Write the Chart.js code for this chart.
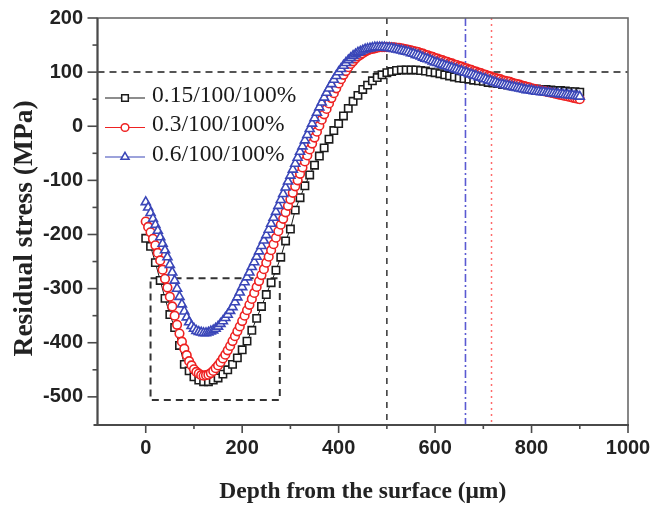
<!DOCTYPE html>
<html><head><meta charset="utf-8">
<script src="https://cdn.jsdelivr.net/npm/chart.js@4.4.0/dist/chart.umd.min.js"></script>
<style>html,body{margin:0;padding:0;background:#fff;}canvas{display:block;}</style>
</head><body>
<canvas id="c" width="655" height="505"></canvas>
<script>
// ---------- data ----------
const seriesNames = ['0.15/100/100%', '0.3/100/100%', '0.6/100/100%'];

const depthBlack = [0,10,20,30,40,50,60,70,80,90,100,110,120,130,140,150,160,170,180,190,200,210,220,230,240,250,260,270,280,290,300,310,320,330,340,350,360,370,380,390,400,410,420,430,440,450,460,470,480,490,500,510,520,530,540,550,560,570,580,590,600,610,620,630,640,650,660,670,680,690,700,710,720,730,740,750,760,770,780,790,800,810,820,830,840,850,860,870,880,890,900];
const stressBlack = [-207,-222,-252,-285,-318,-348,-372,-405,-440,-452,-463,-469,-472,-472,-469,-465,-458,-450,-440,-428,-413,-397,-377,-355,-333,-311,-289,-266,-242,-212,-190,-155,-132,-110,-90,-72,-55,-40,-24,-8,5,19,33,46,57,68,76,84,90,95,99,101,103,104,104,104,104,103,102,100,99,97,95,93,91,89,88,87,85,84,83,81,80,79,77,76,75,74,72,71,70,69,68,68,67,66,66,65,64,64,63];

const depthRed = [0,5,10,15,20,25,30,35,40,45,50,55,60,65,70,75,80,85,90,95,100,105,110,115,120,125,130,135,140,145,150,155,160,165,170,175,180,185,190,195,200,205,210,215,220,225,230,235,240,245,250,255,260,265,270,275,280,285,290,295,300,305,310,315,320,325,330,335,340,345,350,355,360,365,370,375,380,385,390,395,400,405,410,415,420,425,430,435,440,445,450,455,460,465,470,475,480,485,490,495,500,505,510,515,520,525,530,535,540,545,550,555,560,565,570,575,580,585,590,595,600,605,610,615,620,625,630,635,640,645,650,655,660,665,670,675,680,685,690,695,700,705,710,715,720,725,730,735,740,745,750,755,760,765,770,775,780,785,790,795,800,805,810,815,820,825,830,835,840,845,850,855,860,865,870,875,880,885,890,895,900];
const stressRed = [-176,-186,-196,-208,-220,-234,-248,-265,-282,-298,-315,-333,-350,-367,-383,-398,-411,-423,-434,-442,-449,-454,-457,-460,-461,-460,-459,-456,-452,-447,-442,-436,-429,-422,-414,-406,-397,-388,-379,-370,-360,-350,-340,-330,-319,-308,-297,-286,-275,-264,-252,-241,-229,-218,-206,-194,-182,-171,-159,-147,-135,-123,-111,-100,-88,-76,-65,-54,-43,-32,-21,-10,1,12,22,32,42,52,61,70,79,87,95,102,109,115,120,125,129,132,135,138,140,142,143,144,145,146,146,146,146,146,146,146,145,145,144,143,142,141,140,139,138,137,135,134,132,131,129,128,126,125,123,122,120,119,117,116,114,113,111,110,108,107,105,104,102,101,99,98,96,95,93,92,90,89,88,87,85,84,83,82,80,79,78,77,75,74,73,72,70,69,68,67,66,65,64,63,62,61,60,59,58,57,56,55,54,53,52,51,50];

const depthBlue = [0,5,10,15,20,25,30,35,40,45,50,55,60,65,70,75,80,85,90,95,100,105,110,115,120,125,130,135,140,145,150,155,160,165,170,175,180,185,190,195,200,205,210,215,220,225,230,235,240,245,250,255,260,265,270,275,280,285,290,295,300,305,310,315,320,325,330,335,340,345,350,355,360,365,370,375,380,385,390,395,400,405,410,415,420,425,430,435,440,445,450,455,460,465,470,475,480,485,490,495,500,505,510,515,520,525,530,535,540,545,550,555,560,565,570,575,580,585,590,595,600,605,610,615,620,625,630,635,640,645,650,655,660,665,670,675,680,685,690,695,700,705,710,715,720,725,730,735,740,745,750,755,760,765,770,775,780,785,790,795,800,805,810,815,820,825,830,835,840,845,850,855,860,865,870,875,880,885,890,895,900];
const stressBlue = [-140,-150,-160,-171,-182,-193,-205,-217,-229,-242,-256,-270,-285,-300,-315,-329,-342,-353,-362,-369,-374,-378,-380,-381,-382,-382,-381,-379,-377,-374,-370,-365,-360,-354,-348,-341,-334,-325,-316,-307,-297,-288,-279,-270,-260,-251,-241,-231,-221,-211,-201,-191,-180,-169,-158,-147,-136,-125,-113,-102,-91,-80,-69,-58,-47,-37,-26,-16,-5,5,15,25,35,44,53,62,70,78,86,93,100,106,112,117,122,126,130,133,136,138,140,142,143,144,145,146,146,146,146,146,145,145,144,143,142,141,140,139,138,137,135,134,132,131,129,127,125,124,122,120,118,117,115,114,112,111,109,108,106,105,103,102,100,99,97,96,94,93,91,90,88,87,85,84,82,81,79,78,77,76,75,74,73,72,71,70,69,68,67,67,66,65,64,64,63,63,62,62,61,61,60,60,59,59,58,58,57,57,56,56,55];

const xTickValues = [0, 200, 400, 600, 800, 1000];
const xMinorTickValues = [100, 300, 500, 700, 900];
const yTickValues = [-500, -400, -300, -200, -100, 0, 100, 200];
const yMinorTickValues = [-450, -350, -250, -150, -50, 50, 150];

const hRefValue = 100;          // horizontal dashed reference
const vRefBlack = 500;          // vertical dashed (black)
const vRefBlue = 663;           // vertical dash-dot (blue)
const vRefRed = 717;            // vertical dotted (red)
const boxDepth = [10, 278];     // dashed rectangle, x extent
const boxStress = [-506, -281]; // dashed rectangle, y extent

// ---------- styles ----------
const C_BLACK = '#1c1c1c', C_RED = '#ee2222', C_BLUE = '#3a46b8';
const styles = [
  {color: C_BLACK, pointStyle: 'rect', radius: 5.2, order: 3},
  {color: C_RED, pointStyle: 'circle', radius: 4.3, order: 2},
  {color: C_BLUE, pointStyle: 'triangle', radius: 5.2, order: 1}
];
const seriesData = [
  [depthBlack, stressBlack],
  [depthRed, stressRed],
  [depthBlue, stressBlue]
];

const datasets = seriesData.map((s, i) => ({
  label: seriesNames[i],
  data: s[0].map((d, k) => ({x: d, y: s[1][k]})),
  borderColor: styles[i].color,
  borderWidth: 1,
  pointStyle: styles[i].pointStyle,
  pointRadius: styles[i].radius,
  pointBorderWidth: 1.6,
  pointBorderColor: styles[i].color,
  pointBackgroundColor: '#ffffff',
  order: styles[i].order,
  tension: 0
}));

function markerPath(ctx, style, x, y, r) {
  ctx.beginPath();
  if (style === 'rect') {
    const s = r * Math.SQRT1_2;
    ctx.rect(x - s, y - s, 2 * s, 2 * s);
  } else if (style === 'circle') {
    ctx.arc(x, y, r, 0, Math.PI * 2);
  } else {
    const w = r * Math.sin(Math.PI / 3);
    ctx.moveTo(x, y - r);
    ctx.lineTo(x + w, y + r / 2);
    ctx.lineTo(x - w, y + r / 2);
    ctx.closePath();
  }
}

function seg(ctx, x1, y1, x2, y2) {
  ctx.beginPath(); ctx.moveTo(x1, y1); ctx.lineTo(x2, y2); ctx.stroke();
}

const decor = {
  id: 'decor',
  beforeDatasetsDraw(chart) {
    const {ctx, chartArea: a, scales: {x, y}} = chart;
    ctx.save();
    ctx.beginPath(); ctx.rect(a.left, a.top, a.right - a.left, a.bottom - a.top); ctx.clip();
    ctx.strokeStyle = '#555'; ctx.lineWidth = 2; ctx.setLineDash([7, 5]);
    const hy = y.getPixelForValue(hRefValue);
    seg(ctx, a.left, hy, a.right, hy);
    ctx.strokeStyle = '#333'; ctx.lineWidth = 1.5; ctx.setLineDash([6, 6]);
    let vx = x.getPixelForValue(vRefBlack);
    seg(ctx, vx, a.top, vx, a.bottom);
    ctx.strokeStyle = '#5a5ad2'; ctx.lineWidth = 1.6; ctx.setLineDash([8, 3, 2, 3]);
    vx = x.getPixelForValue(vRefBlue);
    seg(ctx, vx, a.top, vx, a.bottom);
    ctx.strokeStyle = '#ff6a6a'; ctx.lineWidth = 1.5; ctx.setLineDash([2, 4]);
    vx = x.getPixelForValue(vRefRed);
    seg(ctx, vx, a.top, vx, a.bottom);
    ctx.strokeStyle = '#333'; ctx.lineWidth = 2; ctx.setLineDash([7, 5]);
    const bx1 = x.getPixelForValue(boxDepth[0]), bx2 = x.getPixelForValue(boxDepth[1]);
    const by1 = y.getPixelForValue(boxStress[1]), by2 = y.getPixelForValue(boxStress[0]);
    ctx.strokeRect(bx1, by1, bx2 - bx1, by2 - by1);
    ctx.restore();
  },
  afterDraw(chart) {
    const {ctx, chartArea: a, scales: {x, y}} = chart;
    ctx.save();
    ctx.setLineDash([]);
    ctx.strokeStyle = '#6a6a6a'; ctx.lineWidth = 1.6;
    ctx.strokeRect(a.left, a.top, a.right - a.left, a.bottom - a.top);
    ctx.strokeStyle = '#4a4a4a'; ctx.lineWidth = 2;
    seg(ctx, a.left, a.top, a.left, a.bottom + 1);
    seg(ctx, a.left - 4, a.bottom, a.right + 1, a.bottom);
    ctx.lineWidth = 1.6;
    yTickValues.forEach(v => { const p = y.getPixelForValue(v); seg(ctx, a.left - 10, p, a.left, p); });
    yMinorTickValues.forEach(v => { const p = y.getPixelForValue(v); seg(ctx, a.left - 5, p, a.left, p); });
    xTickValues.forEach(v => { const p = x.getPixelForValue(v); seg(ctx, p, a.bottom, p, a.bottom + 8); });
    xMinorTickValues.forEach(v => { const p = x.getPixelForValue(v); seg(ctx, p, a.bottom, p, a.bottom + 4); });
    // legend
    const lx0 = 105, lx1 = 145, ly0 = 98, lgap = 29.5, tx = 152;
    ctx.font = '23.5px "Liberation Serif", "Times New Roman", serif';
    ctx.textBaseline = 'middle'; ctx.textAlign = 'left';
    seriesNames.forEach((name, i) => {
      const yy = ly0 + i * lgap;
      const st = styles[i];
      ctx.strokeStyle = st.color; ctx.lineWidth = 1.2;
      seg(ctx, lx0, yy, lx1, yy);
      markerPath(ctx, st.pointStyle, (lx0 + lx1) / 2, yy, st.radius * 0.9);
      ctx.fillStyle = '#fff'; ctx.fill();
      ctx.lineWidth = 1.5; ctx.stroke();
      ctx.fillStyle = '#1a1a1a';
      ctx.fillText(name, tx, yy - 2.5);
    });
    ctx.restore();
  }
};

const tickFont = {family: '"Liberation Sans", Arial, sans-serif', size: 20, weight: 'bold'};
const titleFont = {family: '"Liberation Serif", "Times New Roman", serif', weight: 'bold'};

new Chart(document.getElementById('c'), {
  type: 'line',
  data: {datasets},
  plugins: [decor],
  options: {
    responsive: false,
    animation: false,
    events: [],
    layout: {padding: {left: 0, right: 27, top: 18, bottom: 0}},
    plugins: {legend: {display: false}, tooltip: {enabled: false}},
    scales: {
      x: {
        type: 'linear', min: -100, max: 1000,
        grid: {display: false, drawTicks: true, tickLength: 11}, border: {display: false},
        afterBuildTicks: s => { s.ticks = xTickValues.map(v => ({value: v})); },
        afterFit: s => { s.height = 80; },
        ticks: {font: tickFont, color: '#222', padding: 0, maxRotation: 0, autoSkip: false,
          callback: v => String(v)},
        title: {display: true, text: 'Depth from the surface (\u03bcm)', color: '#222',
          font: Object.assign({size: 23.5, lineHeight: 1.1}, titleFont), padding: {top: 0, bottom: 0}}
      },
      y: {
        type: 'linear', min: -552, max: 200,
        grid: {display: false, drawTicks: true, tickLength: 14.5}, border: {display: false},
        afterBuildTicks: s => { s.ticks = yTickValues.map(v => ({value: v})); },
        afterFit: s => { s.width = 97.5; },
        ticks: {font: tickFont, color: '#222', padding: 0, autoSkip: false,
          callback: v => String(v)},
        title: {display: true, text: 'Residual stress (MPa)  ', color: '#222',
          font: Object.assign({size: 27.5, lineHeight: 1.2}, titleFont), padding: {top: 8, bottom: 0}}
      }
    }
  }
});
</script>
</body></html>
